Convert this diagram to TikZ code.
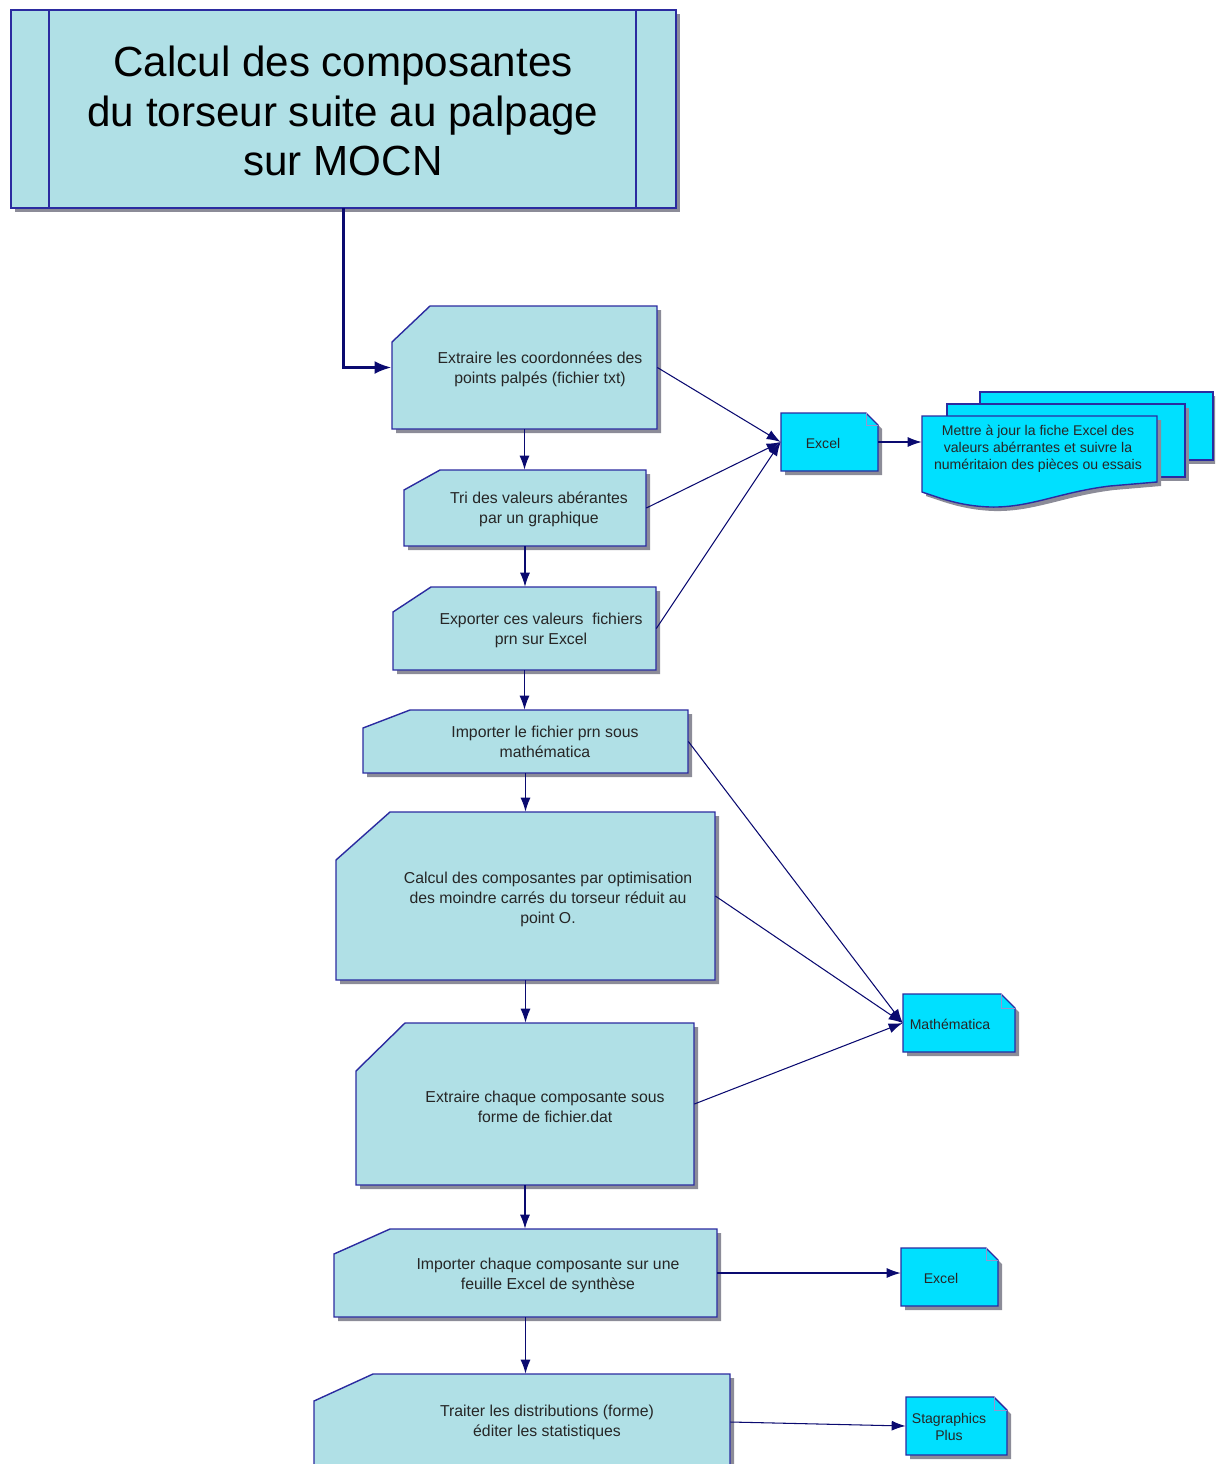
\documentclass[tikz,border=0pt]{standalone}
\usepackage{fontspec}
\setmainfont{Liberation Sans}
\usetikzlibrary{arrows.meta,fit}
\definecolor{stepfill}{HTML}{B0E0E6}
\definecolor{docfill}{HTML}{00E0FF}
\definecolor{edgeblue}{HTML}{2B2BA0}
\definecolor{arrownavy}{HTML}{0A0A70}
\definecolor{shadowgray}{HTML}{8C8C98}

\tikzset{
  stepbox/.style={draw=edgeblue, fill=stepfill, line width=0.8pt},
  docbox/.style={draw=edgeblue, fill=docfill, line width=0.8pt},
  dropshade/.style={fill=shadowgray, draw=none, shift={(4,4)}},
  frame/.style={inner sep=0pt},
  steptext/.style={font=\fontsize{9}{11.4}\selectfont, align=center, text=black!85},
  doctext/.style={font=\fontsize{8}{9.7}\selectfont, align=center, text=black!85},
  flow/.style={draw=arrownavy, line width=0.6pt, -{Latex[length=2.8mm,width=2mm]}},
  mainflow/.style={draw=arrownavy, line width=1.8pt, -{Latex[length=3.4mm,width=2.6mm]}},
}

\begin{document}
\begin{tikzpicture}[x=0.02cm, y=-0.02cm]
  \useasboundingbox (0,0) rectangle (1215,1464);
  \clip (0,0) rectangle (1215,1464);

  % title
  \fill[dropshade] (11,10) rectangle (676,208);
  \filldraw[stepbox] (11,10) rectangle (676,208);
  \draw[edgeblue, line width=0.8pt] (49,10) -- (49,208) (636,10) -- (636,208);
  \node[frame, fit={(11,10) (676,208)}] (title) {};
  \node[align=center, font=\fontsize{24}{28.4}\selectfont] (title-t) at (343,111)
    {Calcul des composantes\\du torseur suite au palpage\\sur MOCN};

  % step 1
  \fill[dropshade] (392,342) -- (430,306) -- (657,306) -- (657,429) -- (392,429) -- cycle;
  \filldraw[stepbox] (392,342) -- (430,306) -- (657,306) -- (657,429) -- (392,429) -- cycle;
  \node[frame, fit={(392,306) (657,429)}] (extract) {};
  \node[steptext] (extract-t) at (540,369) {Extraire les coordonnées des\\points palpés (fichier txt)};

  % step 2
  \fill[dropshade] (404,490) -- (440,470) -- (646,470) -- (646,546) -- (404,546) -- cycle;
  \filldraw[stepbox] (404,490) -- (440,470) -- (646,470) -- (646,546) -- (404,546) -- cycle;
  \node[frame, fit={(404,470) (646,546)}] (sort) {};
  \node[steptext] (sort-t) at (539,509) {Tri des valeurs abérantes\\par un graphique};

  % step 3
  \fill[dropshade] (393,612) -- (431,587) -- (656,587) -- (656,670) -- (393,670) -- cycle;
  \filldraw[stepbox] (393,612) -- (431,587) -- (656,587) -- (656,670) -- (393,670) -- cycle;
  \node[frame, fit={(393,587) (656,670)}] (export) {};
  \node[steptext] (export-t) at (541,630) {Exporter ces valeurs\ \ fichiers\\prn sur Excel};

  % step 4
  \fill[dropshade] (363,728) -- (410,710) -- (688,710) -- (688,773) -- (363,773) -- cycle;
  \filldraw[stepbox] (363,728) -- (410,710) -- (688,710) -- (688,773) -- (363,773) -- cycle;
  \node[frame, fit={(363,710) (688,773)}] (import) {};
  \node[steptext] (import-t) at (545,742) {Importer le fichier prn sous\\mathématica};

  % step 5
  \fill[dropshade] (336,860) -- (390,812) -- (715,812) -- (715,980) -- (336,980) -- cycle;
  \filldraw[stepbox] (336,860) -- (390,812) -- (715,812) -- (715,980) -- (336,980) -- cycle;
  \node[frame, fit={(336,812) (715,980)}] (optim) {};
  \node[steptext] (optim-t) at (548,899) {Calcul des composantes par optimisation\\des moindre carrés du torseur réduit au\\point O.};

  % step 6
  \fill[dropshade] (356,1071) -- (405,1023) -- (694,1023) -- (694,1185) -- (356,1185) -- cycle;
  \filldraw[stepbox] (356,1071) -- (405,1023) -- (694,1023) -- (694,1185) -- (356,1185) -- cycle;
  \node[frame, fit={(356,1023) (694,1185)}] (split) {};
  \node[steptext] (split-t) at (545,1107) {Extraire chaque composante sous\\forme de fichier.dat};

  % step 7
  \fill[dropshade] (334,1254) -- (390,1229) -- (717,1229) -- (717,1317) -- (334,1317) -- cycle;
  \filldraw[stepbox] (334,1254) -- (390,1229) -- (717,1229) -- (717,1317) -- (334,1317) -- cycle;
  \node[frame, fit={(334,1229) (717,1317)}] (gather) {};
  \node[steptext] (gather-t) at (548,1275) {Importer chaque composante sur une\\feuille Excel de synthèse};

  % step 8
  \fill[dropshade] (314,1401) -- (373,1374) -- (730,1374) -- (730,1470) -- (314,1470) -- cycle;
  \filldraw[stepbox] (314,1401) -- (373,1374) -- (730,1374) -- (730,1470) -- (314,1470) -- cycle;
  \node[frame, fit={(314,1374) (730,1470)}] (stats) {};
  \node[steptext] (stats-t) at (547,1422) {Traiter les distributions (forme)\\éditer les statistiques};

  % documents
  \fill[dropshade] (781,413) -- (866,413) -- (878,425) -- (878,471) -- (781,471) -- cycle;
  \filldraw[docbox] (781,413) -- (866,413) -- (878,425) -- (878,471) -- (781,471) -- cycle;
  \draw[edgeblue!50, line width=0.4pt] (866,413) -- (866,425) -- (878,425);
  \node[frame, fit={(781,413) (878,471)}] (excel) {};
  \node[doctext] (excel-t) at (823,443) {Excel};

  \fill[dropshade] (903,994) -- (1001,994) -- (1015,1008) -- (1015,1052) -- (903,1052) -- cycle;
  \filldraw[docbox] (903,994) -- (1001,994) -- (1015,1008) -- (1015,1052) -- (903,1052) -- cycle;
  \draw[edgeblue!50, line width=0.4pt] (1001,994) -- (1001,1008) -- (1015,1008);
  \node[frame, fit={(903,994) (1015,1052)}] (mathem) {};
  \node[doctext] (mathem-t) at (950,1024) {Mathématica};

  \fill[dropshade] (901,1248) -- (986,1248) -- (998,1260) -- (998,1306) -- (901,1306) -- cycle;
  \filldraw[docbox] (901,1248) -- (986,1248) -- (998,1260) -- (998,1306) -- (901,1306) -- cycle;
  \draw[edgeblue!50, line width=0.4pt] (986,1248) -- (986,1260) -- (998,1260);
  \node[frame, fit={(901,1248) (998,1306)}] (excel2) {};
  \node[doctext] (excel2-t) at (941,1278) {Excel};

  \fill[dropshade] (906,1397) -- (994,1397) -- (1007,1410) -- (1007,1455) -- (906,1455) -- cycle;
  \filldraw[docbox] (906,1397) -- (994,1397) -- (1007,1410) -- (1007,1455) -- (906,1455) -- cycle;
  \draw[edgeblue!50, line width=0.4pt] (994,1397) -- (994,1410) -- (1007,1410);
  \node[frame, fit={(906,1397) (1007,1455)}] (stagr) {};
  \node[doctext] (stagr-t) at (949,1427) {Stagraphics\\Plus};

  % stacked sheets
  \fill[dropshade] (980,392) rectangle (1213,460);
  \filldraw[docbox] (980,392) rectangle (1213,460);
  \fill[dropshade] (947,404) rectangle (1185,477);
  \filldraw[docbox] (947,404) rectangle (1185,477);
  \fill[dropshade] (922,416) -- (1157,416) -- (1157,482) -- (1110,486)
    .. controls (1060,492) and (1030,508) .. (990,507)
    .. controls (960,506) and (940,498) .. (922,492) -- cycle;
  \filldraw[docbox] (922,416) -- (1157,416) -- (1157,482) -- (1110,486)
    .. controls (1060,492) and (1030,508) .. (990,507)
    .. controls (960,506) and (940,498) .. (922,492) -- cycle;
  \node[frame, fit={(922,416) (1157,492)}] (sheet) {};
  \node[doctext] (sheet-t) at (1038,449) {Mettre à jour la fiche Excel des\\valeurs abérrantes et suivre la\\numéritaion des pièces ou essais};

  % connectors
  \draw[mainflow] (title.south) |- (extract.west);
  \draw[flow] (extract.south) -- (extract.south |- sort.north);
  \draw[flow] (sort.south) -- (sort.south |- export.north);
  \draw[flow] (export.south) -- (export.south |- import.north);
  \draw[flow] (import.south) -- (import.south |- optim.north);
  \draw[flow] (optim.south) -- (optim.south |- split.north);
  \draw[flow] (split.south) -- (split.south |- gather.north);
  \draw[flow] (gather.south) -- (gather.south |- stats.north);

  \draw[flow] (extract.east) -- (excel.west);
  \draw[flow] (sort.east) -- (excel.west);
  \draw[flow] (export.east) -- (excel.west);
  \draw[flow] (excel.east) -- (excel.east -| sheet.west);

  \draw[flow] (import.east) -- (mathem.west);
  \draw[flow] (optim.east) -- (mathem.west);
  \draw[flow] (split.east) -- (mathem.west);

  \draw[flow] (gather.east) -- (gather.east -| excel2.west);
  \draw[flow] (stats.east) -- (stagr.west);
\end{tikzpicture}
\end{document}
